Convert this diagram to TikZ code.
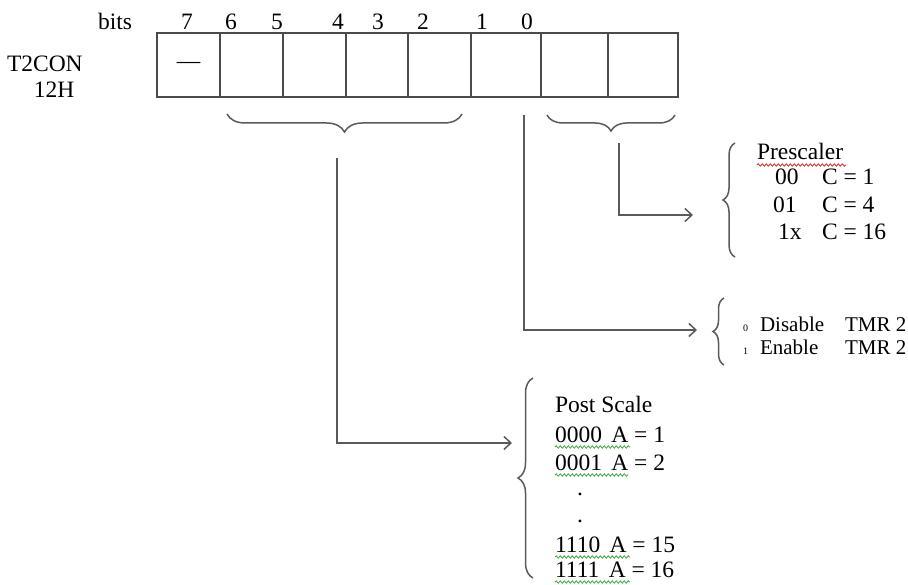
\documentclass[tikz,border=0pt]{standalone}
\usepackage{fontspec}
\setmainfont{Liberation Serif}
\usetikzlibrary{decorations.pathreplacing,decorations.pathmorphing,arrows.meta}
\definecolor{regcol}{RGB}{75,75,75}
\definecolor{wirecol}{RGB}{90,90,90}
\definecolor{spellred}{RGB}{220,40,40}
\definecolor{spellgreen}{RGB}{60,170,60}
\begin{document}
\begin{tikzpicture}[x=1pt,y=-1pt,
  every node/.style={font=\fontsize{23.5}{27}\selectfont, inner sep=0pt, outer sep=0pt},
  cell/.style={draw=regcol, line width=2.2pt, minimum height=64pt, anchor=north west},
  wire/.style={draw=wirecol, line width=1.5pt},
  arr/.style={wire, -{Straight Barb[length=7pt,width=13pt,line width=1.5pt]}},
  brc/.style={draw=wirecol, line width=1.5pt, decorate, decoration={brace, amplitude=#1}},
  txt/.style={anchor=base west},
  smalltxt/.style={anchor=base west, font=\fontsize{21}{25}\selectfont},
  bitlbl/.style={anchor=base},
  tiny/.style={anchor=base west, font=\fontsize{10}{12}\selectfont},
  redsq/.style={draw=spellred, line width=0.8pt, decorate, decoration={snake, amplitude=1.2pt, segment length=4pt}},
  greensq/.style={draw=spellgreen, line width=0.8pt, decorate, decoration={snake, amplitude=1.2pt, segment length=4pt}}
]
\useasboundingbox (0,0) rectangle (908,585);

% register labels
\node[txt] (t2con) at (7,72) {T2CON};
\node[txt] (addr) at (34,98) {12H};
\node[txt] (bits) at (98,30) {bits};
\node[bitlbl] (l7) at (187,30) {7};
\node[bitlbl] (l6) at (231,30) {6};
\node[bitlbl] (l5) at (277,30) {5};
\node[bitlbl] (l4) at (338,30) {4};
\node[bitlbl] (l3) at (378,30) {3};
\node[bitlbl] (l2) at (423,30) {2};
\node[bitlbl] (l1) at (482,30) {1};
\node[bitlbl] (l0) at (527,30) {0};

% register cells
\node[cell, minimum width=63pt] (c7) at (157,33) {—};
\node[cell, minimum width=63pt] (c6) at (c7.north east) {};
\node[cell, minimum width=63pt] (c5) at (c6.north east) {};
\node[cell, minimum width=62pt] (c4) at (c5.north east) {};
\node[cell, minimum width=63pt] (c3) at (c4.north east) {};
\node[cell, minimum width=70pt] (c2) at (c3.north east) {};
\node[cell, minimum width=67pt] (c1) at (c2.north east) {};
\node[cell, minimum width=70pt] (c0) at (c1.north east) {};

% braces under register
\draw[brc=18pt] (462,114) -- (227,114);
\draw[brc=16pt] (675,115) -- (547,115);

% connector coordinates
\coordinate (s1) at (337,158);
\coordinate (e1) at (512,443);
\coordinate (s2) at (524,115);
\coordinate (e2) at (697,330);
\coordinate (s3) at (619,143);
\coordinate (e3) at (693,215);

\draw[arr] (s1) |- (e1);
\draw[arr] (s2) |- (e2);
\draw[arr] (s3) |- (e3);

% Prescaler block
\draw[brc=12pt] (735,257) -- (735,143);
\node[txt] (pre) at (757,160) {Prescaler};
\draw[redsq] (757,165) -- (846,165);
\node[txt] (p00) at (775,185) {00};
\node[txt] (p00v) at (822,185) {C = 1};
\node[txt] (p01) at (773,213) {01};
\node[txt] (p01v) at (822,213) {C = 4};
\node[txt] (p1x) at (778,240) {1x};
\node[txt] (p1xv) at (822,240) {C = 16};

% Enable block
\draw[brc=11pt] (724,365) -- (724,298);
\node[tiny] (z0) at (743,332) {0};
\node[smalltxt] (dis) at (760,332) {Disable};
\node[smalltxt] (dist) at (845,332) {TMR 2};
\node[tiny] (z1) at (743,355) {1};
\node[smalltxt] (ena) at (760,355) {Enable};
\node[smalltxt] (enat) at (845,355) {TMR 2};

% Post scale block
\draw[brc=15pt] (533,578) -- (533,378);
\node[txt] (post) at (555,413) {Post Scale};
\node[txt] (q0) at (555,442) {0000\hspace{0.4em}A = 1};
\draw[greensq] (555,447) -- (630,447);
\node[txt] (q1) at (555,470) {0001\hspace{0.4em}A = 2};
\draw[greensq] (555,475) -- (628,475);
\node[txt] (d1) at (577,495) {.};
\node[txt] (d2) at (577,522) {.};
\node[txt] (q14) at (555,552) {1110\hspace{0.4em}A = 15};
\draw[greensq] (555,557) -- (630,557);
\node[txt] (q15) at (555,577) {1111\hspace{0.4em}A = 16};
\draw[greensq] (555,582) -- (630,582);
\end{tikzpicture}
\end{document}
